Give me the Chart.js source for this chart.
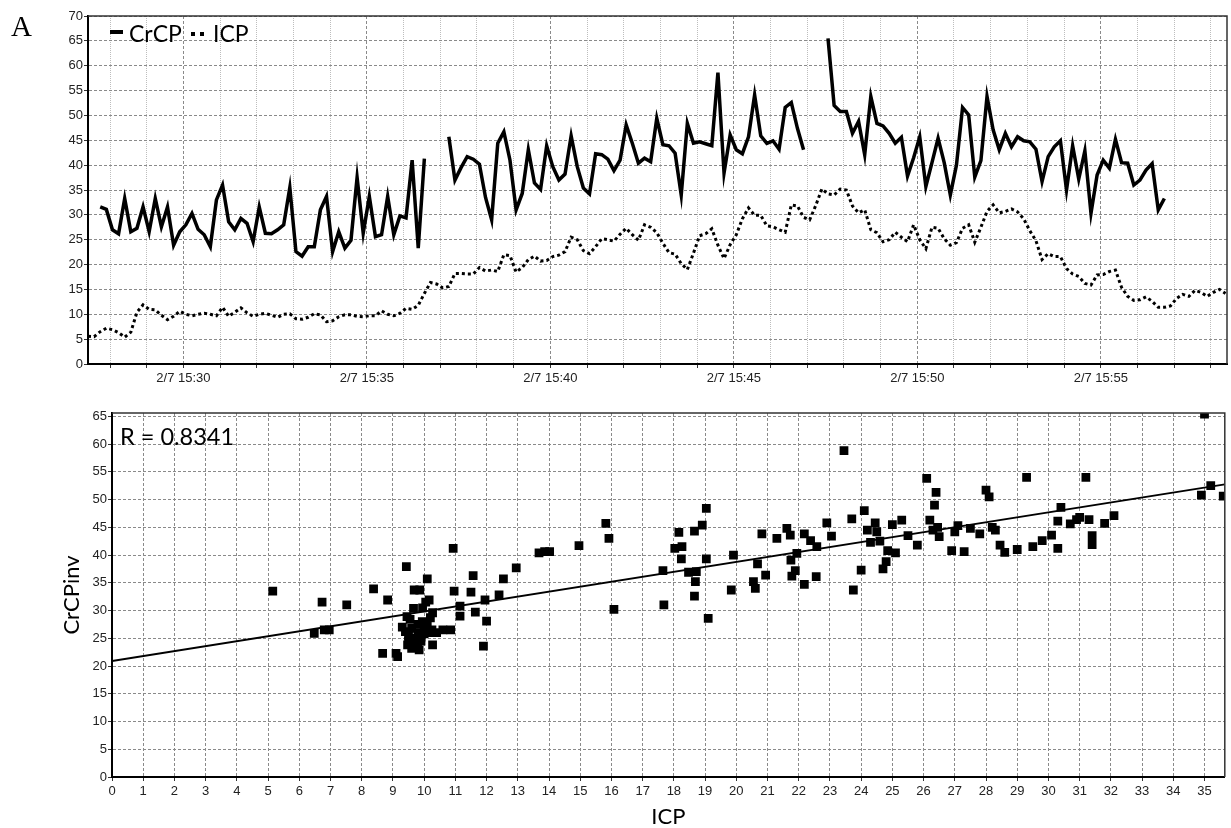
<!DOCTYPE html>
<html>
<head>
<meta charset="utf-8">
<script src="https://cdn.jsdelivr.net/npm/chart.js@4.4.0/dist/chart.umd.min.js"></script>
<style>
  body { margin: 0; background: #fff; }
  #page { position: relative; width: 1231px; height: 828px; overflow: hidden; background: #fff; }
  canvas { position: absolute; left: 0; }
  .txt { position: absolute; white-space: nowrap; line-height: 1; color: #000; }
  #panel { left: 11px; top: 10px; font: 29px "Liberation Serif", serif; }
  .lg-solid { position: absolute; left: 110px; top: 30px; width: 13px; height: 4px; background: #000; }
  .lg-dot { position: absolute; top: 32px; width: 4px; height: 4px; background: #000; }
  #rval { left: 120px; top: 422px; font: 23.5px Lato, sans-serif; }
</style>
</head>
<body>
<div id="page">
  <canvas id="trend" width="1231" height="395" style="top:0"></canvas>
  <canvas id="scatter" width="1231" height="433" style="top:395px"></canvas>

  <div class="txt" id="panel">A</div>
  <div class="lg-solid"></div>
  <div class="txt" style="left:129px;top:19px;font:23px Lato,sans-serif">CrCP</div>
  <div class="lg-dot" style="left:191px"></div>
  <div class="lg-dot" style="left:200px"></div>
  <div class="txt" style="left:213px;top:19px;font:23px Lato,sans-serif">ICP</div>
  <div class="txt" id="rval">R = 0.8341</div>
</div>

<script>
// trend: one reading every 10 s starting 15:27:24 (minutes past 15:00)
const startMinute = 27.4;
const sampleStep = 1 / 6;
const timeTicks = [30, 35, 40, 45, 50, 55];
const timeTickLabels = ['2/7 15:30', '2/7 15:35', '2/7 15:40', '2/7 15:45', '2/7 15:50', '2/7 15:55'];

const crcp = [
  null, null,
  31.6, 31.1, 27.0, 26.2, 33.3, 26.6, 27.3, 31.6, 26.6, 33.3,
  27.6, 31.6, 23.9, 26.6, 28.0, 30.3, 27.1, 26.0, 23.6, 33.0,
  36.0, 28.6, 27.0, 29.3, 28.3, 24.6, 31.6, 26.3, 26.2, 27.0,
  28.0, 35.5, 22.6, 21.7, 23.6, 23.6, 31.0, 33.7, 22.6, 26.6,
  23.3, 24.9, 37.5, 26.3, 33.7, 25.6, 26.0, 33.7, 26.0, 29.8,
  29.4, 41.0, 23.3, 41.3,
  null, null, null,
  45.7, 37.0, 39.5, 41.7, 41.2, 40.2, 33.5, 29.0, 44.4, 46.7,
  41.0, 31.0, 34.3, 43.1, 36.4, 35.1, 43.9, 39.7, 37.0, 38.2,
  45.9, 39.7, 35.4, 34.2, 42.3, 42.1, 41.2, 38.9, 41.0, 48.1,
  44.4, 40.4, 41.4, 40.7, 49.4, 44.1, 43.9, 42.4, 34.0, 48.4,
  44.4, 44.7, 44.3, 43.9, 58.6, 38.4, 46.1, 43.1, 42.3, 45.7,
  54.1, 45.9, 44.4, 44.9, 43.2, 51.6, 52.6, 47.4, 43.1,
  null, null, null,
  65.5, 52.0, 50.8, 50.8, 46.4, 48.8, 42.1, 53.8, 48.4, 47.9,
  46.4, 44.4, 45.6, 37.8, 41.5, 45.7, 35.7, 40.5, 45.4, 40.5,
  34.0, 40.0, 51.6, 50.1, 37.6, 40.9, 53.8, 47.1, 43.1, 46.4,
  43.7, 45.7, 44.9, 44.7, 43.2, 36.7, 41.7, 43.7, 44.9, 35.0,
  43.9, 37.2, 42.9, 30.3, 38.0, 41.0, 39.4, 45.2, 40.5, 40.4,
  36.0, 37.0, 39.0, 40.3, 31.0, 33.3,
  null, null, null, null, null, null, null, null, null, null
];

const icp = [
  5.6, 5.5, 6.5, 7.2, 6.9, 6.3, 5.4, 6.4, 10.4, 11.9,
  11.0, 10.9, 9.8, 8.9, 9.6, 10.6, 10.0, 9.7, 10.0, 10.2,
  10.0, 9.7, 11.4, 9.6, 10.4, 11.3, 10.3, 9.6, 10.0, 10.2,
  9.8, 9.4, 10.0, 10.1, 9.1, 9.0, 9.4, 10.1, 9.9, 8.5,
  8.7, 9.5, 9.9, 9.9, 9.6, 9.5, 9.7, 9.7, 10.7, 10.0,
  9.7, 10.2, 11.2, 11.0, 11.8, 14.2, 16.4, 16.1, 15.3, 15.6,
  18.2, 18.2, 18.1, 18.1, 19.4, 18.7, 18.9, 18.6, 22.0, 21.8,
  18.5, 19.4, 21.0, 21.7, 20.7, 20.8, 21.6, 21.9, 22.6, 25.5,
  25.0, 22.8, 22.2, 23.6, 25.2, 25.0, 24.7, 26.1, 27.3, 26.0,
  24.9, 28.0, 27.5, 26.4, 24.3, 22.4, 22.1, 20.2, 19.0, 22.3,
  25.8, 26.2, 27.2, 23.9, 21.2, 24.0, 26.0, 29.2, 31.4, 29.9,
  29.9, 27.8, 27.6, 27.0, 26.5, 32.0, 31.8, 29.5, 29.0, 31.9,
  35.2, 34.2, 34.0, 35.2, 35.0, 31.8, 30.4, 31.0, 27.0, 26.4,
  24.6, 25.0, 26.5, 25.5, 24.6, 28.0, 25.0, 23.2, 27.5, 27.3,
  25.2, 23.9, 24.4, 27.3, 28.0, 24.5, 27.5, 30.7, 32.0, 30.4,
  30.7, 31.2, 30.6, 29.2, 26.8, 24.8, 21.0, 22.2, 21.6, 21.6,
  19.2, 18.1, 17.6, 16.2, 15.9, 17.9, 18.0, 18.6, 18.9, 15.4,
  13.6, 12.8, 12.9, 13.5, 12.6, 11.4, 11.4, 11.7, 13.2, 14.0,
  13.6, 14.8, 14.4, 13.6, 14.4, 15.0, 14.2
];

// scatter: ICP against CrCPinv
const scatterIcp = [
  5.15, 6.48, 6.8, 6.96, 6.73, 7.52, 8.38, 8.83, 8.67, 9.1,
  9.15, 9.43, 9.45, 9.66, 9.68, 9.86, 9.47, 9.79, 9.84, 10.27,
  11.9, 10.05, 10.16, 10.27, 10.1, 10.93, 10.96, 11.15, 11.15, 11.5,
  11.57, 11.64, 11.95, 12.0, 12.4, 12.54, 12.95, 13.68, 13.86, 14.02,
  14.96, 15.82, 15.92, 16.08, 9.3, 9.4, 9.5, 9.5, 9.6, 9.7,
  9.7, 9.8, 9.8, 9.9, 9.9, 10.0, 10.0, 10.1, 10.2, 10.25,
  10.4, 10.6, 10.85, 9.94, 9.6, 9.55, 10.2, 9.95,
  17.68, 17.65, 18.03, 18.16, 18.26, 18.24, 18.47, 18.66, 18.72, 18.69,
  18.66, 18.91, 19.04, 19.04, 19.1, 19.84, 19.91, 20.55, 20.61, 20.68,
  20.82, 20.94, 21.3, 21.62, 21.73, 21.75, 21.78, 21.89, 21.94, 22.18,
  22.18, 22.38, 22.58, 22.56,
  23.45, 22.9, 23.05, 23.7, 23.75, 24.0, 24.1, 24.2, 24.3, 24.45,
  24.5, 24.6, 24.7, 24.8, 24.85, 25.0, 25.1, 25.3, 25.5, 25.8,
  26.1, 26.2, 26.3, 26.35, 26.4, 26.45, 26.5, 26.9, 27.0, 27.1,
  27.3, 27.5, 27.8, 28.0, 28.1, 28.2, 28.3, 28.45, 28.6, 29.0,
  29.3, 29.5, 29.8, 30.1, 30.3, 30.4, 30.3, 30.7, 30.9, 31.0,
  31.2, 31.3, 31.4, 31.4, 31.8, 32.1, 34.9, 35.2, 35.6, 35.0
];
const scatterCrcp = [
  33.5, 25.9, 26.5, 26.5, 31.5, 31.0, 33.9, 31.9, 22.3, 22.3,
  21.7, 37.9, 28.9, 30.4, 33.7, 33.7, 23.8, 23.5, 22.9, 23.8,
  23.6, 31.5, 31.9, 29.6, 35.7, 41.2, 33.5, 30.8, 29.0, 33.3,
  36.3, 29.7, 31.9, 28.1, 32.8, 35.7, 37.7, 40.4, 40.6, 40.6,
  41.7, 45.7, 43.0, 30.2, 27.0, 26.2, 25.5, 24.5, 26.8, 25.0,
  24.0, 27.5, 26.0, 25.2, 24.5, 26.8, 25.8, 27.3, 26.0, 26.5,
  26.0, 26.5, 26.5, 28.0, 23.2, 28.4, 28.7, 30.5,
  31.0, 37.2, 41.2, 44.1, 41.5, 39.3, 36.9, 44.3, 37.0, 35.2,
  32.6, 45.4, 48.4, 39.3, 28.6, 33.7, 40.0, 35.2, 34.0, 38.4,
  43.8, 36.4, 43.0, 44.8, 43.6, 39.1, 36.2, 37.2, 40.3, 34.7,
  43.8, 42.6, 41.5, 36.1,
  58.8, 45.8, 43.4, 46.5, 33.7, 37.3, 48.0, 44.5, 42.3, 45.8,
  44.2, 42.5, 37.5, 38.8, 40.8, 45.5, 40.4, 46.3, 43.5, 41.8,
  53.8, 46.3, 44.5, 49.0, 51.3, 45.0, 43.3, 40.8, 44.2, 45.3,
  40.6, 44.8, 43.8, 51.7, 50.5, 45.0, 44.5, 41.8, 40.5, 41.0,
  54.0, 41.5, 42.6, 43.6, 46.1, 48.6, 41.2, 45.6, 46.4, 46.8,
  54.0, 46.4, 43.5, 41.9, 45.7, 47.1, 50.8, 52.5, 50.6, 65.4
];

// least-squares line shown on the scatter
const fitIntercept = 20.9;
const fitSlope = 0.893;
const icpAxisMax = 35.65;

Chart.defaults.font.family = '"Liberation Sans", Arial, sans-serif';
Chart.defaults.font.size = 13;
Chart.defaults.color = '#222';

const gridDash = [3, 2];

// dark frame on the top and right of the plot area
const framePlugin = {
  id: 'frame',
  afterDraw(chart) {
    const { ctx, chartArea: a } = chart;
    ctx.save();
    ctx.strokeStyle = '#333';
    ctx.lineWidth = 1.5;
    ctx.beginPath();
    ctx.moveTo(a.left, a.top);
    ctx.lineTo(a.right, a.top);
    ctx.lineTo(a.right, a.bottom);
    ctx.stroke();
    ctx.restore();
  }
};

const sampleTimes = icp.map((_, i) => startMinute + i * sampleStep);
const pts = arr => arr.map((v, i) => ({ x: sampleTimes[i], y: v }));

new Chart(document.getElementById('trend'), {
  type: 'line',
  data: {
    datasets: [
      {
        label: 'CrCP',
        data: pts(crcp),
        borderColor: '#000',
        borderWidth: 3.5,
        pointRadius: 0,
        spanGaps: false,
        tension: 0
      },
      {
        label: 'ICP',
        data: pts(icp),
        borderColor: '#000',
        borderWidth: 3,
        borderDash: [3, 3],
        pointRadius: 0,
        tension: 0
      }
    ]
  },
  options: {
    responsive: false,
    animation: false,
    layout: { padding: { left: 0, right: 4, top: 16, bottom: 0 } },
    plugins: { legend: { display: false }, tooltip: { enabled: false } },
    scales: {
      x: {
        type: 'linear',
        min: startMinute,
        max: 58.44,
        afterBuildTicks: s => {
          const t = [];
          for (let m = 28; m <= 58; m++) t.push({ value: m });
          s.ticks = t;
        },
        afterFit: s => { s.height = 31; },
        ticks: {
          autoSkip: false,
          maxRotation: 0,
          padding: 3,
          callback: v => {
            const k = timeTicks.indexOf(v);
            return k >= 0 ? timeTickLabels[k] : '';
          }
        },
        grid: {
          color: c => (c.tick && c.tick.value % 5 === 0 ? '#8a8a8a' : '#bdbdbd'),
          tickColor: '#333',
          tickLength: 4,
          tickBorderDash: []
        },
        border: {
          color: '#000',
          width: 2,
          dash: c => (c.tick ? (c.tick.value % 5 === 0 ? gridDash : [1, 1]) : [])
        }
      },
      y: {
        min: 0,
        max: 70,
        afterBuildTicks: s => {
          const t = [];
          for (let v = 0; v <= 70; v += 5) t.push({ value: v });
          s.ticks = t;
        },
        afterFit: s => { s.width = 88; },
        ticks: { padding: 1 },
        grid: { color: '#8a8a8a', tickColor: '#333', tickLength: 4, tickBorderDash: [] },
        border: { color: '#000', width: 2, dash: c => (c.tick ? gridDash : []) }
      }
    }
  },
  plugins: [framePlugin]
});

new Chart(document.getElementById('scatter'), {
  type: 'scatter',
  data: {
    datasets: [
      {
        type: 'line',
        label: 'fit',
        data: [
          { x: 0, y: fitIntercept },
          { x: icpAxisMax, y: fitIntercept + fitSlope * icpAxisMax }
        ],
        borderColor: '#000',
        borderWidth: 2,
        pointRadius: 0,
        order: 0
      },
      {
        label: 'CrCPinv',
        data: scatterIcp.map((v, i) => ({ x: v, y: scatterCrcp[i] })),
        pointStyle: 'rect',
        pointRadius: 6.2,
        pointBorderWidth: 0,
        backgroundColor: '#000',
        borderColor: '#000',
        order: 1
      }
    ]
  },
  options: {
    responsive: false,
    animation: false,
    layout: { padding: { left: 0, right: 4, top: 18, bottom: 0 } },
    plugins: { legend: { display: false }, tooltip: { enabled: false } },
    scales: {
      x: {
        type: 'linear',
        min: 0,
        max: icpAxisMax,
        afterBuildTicks: s => {
          const t = [];
          for (let v = 0; v <= 35; v++) t.push({ value: v });
          s.ticks = t;
        },
        afterFit: s => { s.height = 51; },
        ticks: { autoSkip: false, maxRotation: 0, padding: 3 },
        title: {
          display: true,
          text: 'ICP',
          color: '#000',
          font: { family: 'Lato', size: 22, lineHeight: 1 },
          padding: { top: 0, bottom: 0 }
        },
        grid: { color: '#8a8a8a', tickColor: '#333', tickLength: 4, tickBorderDash: [] },
        border: { color: '#000', width: 2, dash: c => (c.tick ? gridDash : []) }
      },
      y: {
        min: 0,
        max: 65.6,
        afterBuildTicks: s => {
          const t = [];
          for (let v = 0; v <= 65; v += 5) t.push({ value: v });
          s.ticks = t;
        },
        afterFit: s => { s.width = 112; },
        ticks: { padding: 1 },
        title: {
          display: true,
          text: 'CrCPinv',
          color: '#000',
          font: { family: 'Lato', size: 22, lineHeight: 1 },
          padding: { top: 61, bottom: 0 }
        },
        grid: { color: '#8a8a8a', tickColor: '#333', tickLength: 4, tickBorderDash: [] },
        border: { color: '#000', width: 2, dash: c => (c.tick ? gridDash : []) }
      }
    }
  },
  plugins: [framePlugin]
});
</script>
</body>
</html>
